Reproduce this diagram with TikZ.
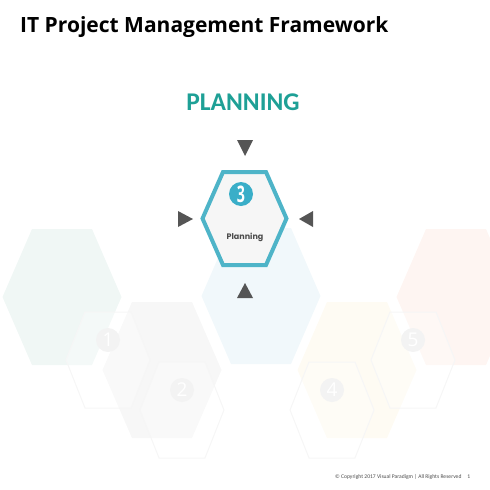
\documentclass[tikz,border=0pt]{standalone}
\usepackage{fontspec}
\setmainfont{Carlito}
\newfontfamily\roundfont{Poppins}
\newfontfamily\numfont{Open Sans}
\usetikzlibrary{positioning}
\definecolor{Teal}{RGB}{30, 160, 150}
\definecolor{HexLine}{RGB}{78, 180, 200}
\definecolor{Badge}{RGB}{58, 174, 200}
\definecolor{Pointer}{RGB}{85, 85, 85}
\definecolor{Panel}{RGB}{246, 246, 246}
\definecolor{FaintTeal}{RGB}{240, 247, 245}
\definecolor{FaintBlue}{RGB}{241, 248, 251}
\definecolor{FaintGray}{RGB}{247, 247, 247}
\definecolor{FaintOrange}{RGB}{254, 251, 243}
\definecolor{FaintPink}{RGB}{254, 245, 242}
\definecolor{FaintLine}{RGB}{246, 246, 246}
\definecolor{FaintDot}{RGB}{243, 243, 243}

\begin{document}
\begin{tikzpicture}[x=1pt,y=-1pt]
    \useasboundingbox (0,0) rectangle (490,490);
    \clip (0,0) rectangle (490,490);
    % faded background hexagons
    \foreach \x/\y/\c in {62/297/FaintTeal, 261/296/FaintBlue, 456/297/FaintPink, 162/370/FaintGray, 357/370/FaintOrange}
    {
    \fill[\c] (\x-59.5,\y) to (\x-30,\y-68) to (\x+30,\y-68) to (\x+59.5,\y) to (\x+30,\y+68) to (\x-30,\y+68) to cycle;
    }
    % faded step outlines
    \foreach \x/\y/\n in {108/360/1, 182/410/2, 332/410/4, 413/360/5}
    {
    \draw[FaintLine, line width=1pt, fill=white, fill opacity=0.3] (\x-42,\y) to (\x-23,\y-48) to (\x+23,\y-48) to (\x+42,\y) to (\x+23,\y+48) to (\x-23,\y+48) to cycle;
    \node[circle, fill=FaintDot, inner sep=0pt, minimum size=24pt, text=white, font=\numfont\fontsize{19}{19}\selectfont] (num\n) at (\x,\y-20) {\n};
    }
    % highlighted step
    \draw[HexLine, line width=4pt, fill=Panel] (202.5,218.5) to (223,172) to (266,172) to (286.5,218.5) to (266,265) to (223,265) to cycle;
    \node[circle, fill=Badge, inner sep=0pt, minimum size=24pt, text=white, font=\numfont\bfseries\fontsize{19}{19}\selectfont] (badge) at (241,194) {\scalebox{0.75}[1.2]{3}};
    \node[text=Pointer!90!black, font=\roundfont\bfseries\fontsize{8}{8}\selectfont] (label) at (245,237) {Planning};
    % pointers
    \fill[Pointer] (237,140) to (253,140) to (245,156) to cycle;
    \fill[Pointer] (237,298) to (253,298) to (245,283) to cycle;
    \fill[Pointer] (178,211) to (178,227) to (193,219) to cycle;
    \fill[Pointer] (313,211) to (313,227) to (299,219) to cycle;
    % texts
    \node[anchor=base west, inner sep=0pt, font=\numfont\bfseries\fontsize{21}{21}\selectfont] (title) at (20,32) {IT Project Management Framework};
    \node[anchor=base, inner sep=0pt, text=Teal, font=\bfseries\fontsize{25.5}{25.5}\selectfont] (stage) at (243,110) {PLANNING};
    \node[anchor=base west, inner sep=0pt, text=black!70, font=\fontsize{5.6}{5.6}\selectfont] (copyright) at (335,478) {\textcopyright\ Copyright 2017 Visual Paradigm | All Rights Reserved\hspace{6pt}1};
\end{tikzpicture}
\end{document}
